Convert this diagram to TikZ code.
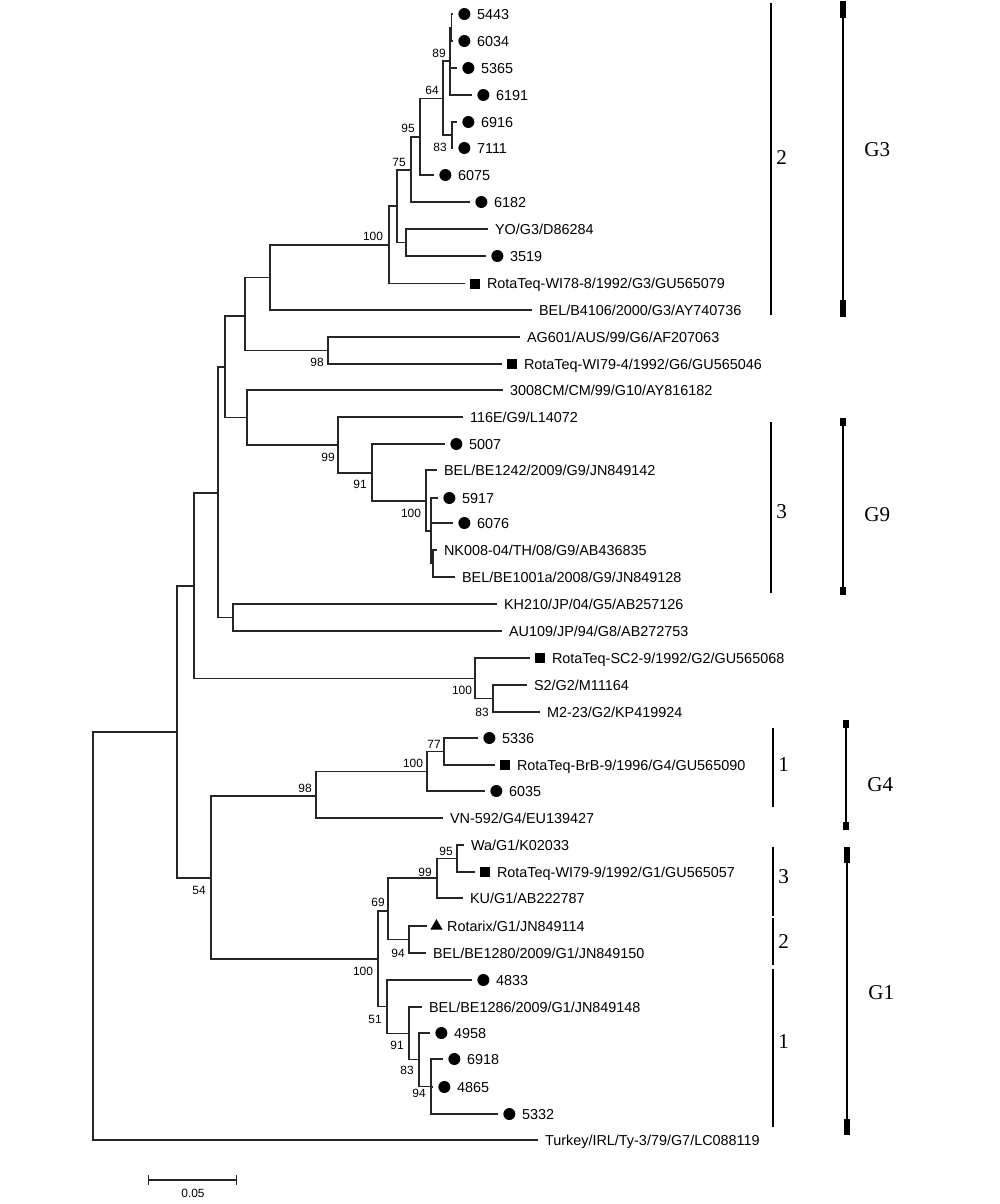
\documentclass[tikz,border=0pt]{standalone}
\usepackage{fontspec}
\setmainfont{Liberation Serif}
\setsansfont{Liberation Sans}
\usepackage{tikz}
\usetikzlibrary{positioning}
\usetikzlibrary{shapes.geometric}
\usetikzlibrary{arrows.meta}

\begin{document}
\begin{tikzpicture}[x=0.02cm, y=-0.02cm, node distance=0.1cm,
br/.style={draw=black!85, line width=0.6pt},
mdot/.style={circle, fill=black, minimum size=0.24cm, inner sep=0pt},
msq/.style={rectangle, fill=black, minimum size=0.2cm, inner sep=0pt},
mtri/.style={regular polygon, regular polygon sides=3, fill=black, minimum size=0.28cm, inner sep=0pt},
mnone/.style={inner sep=0pt, minimum size=0pt, xshift=-0.1cm},
taxon/.style={font=\fontsize{8.2}{9}\selectfont\sffamily, inner sep=0pt, text height=6pt, text depth=0pt},
boot/.style={font=\fontsize{6.8}{8}\selectfont\sffamily, inner sep=0pt},
grp/.style={font=\fontsize{12}{14}\selectfont\rmfamily, inner sep=0pt},
subbar/.style={line width=1pt},
gbar/.style={line width=1.3pt},
gcap/.style={line width=3.4pt}]
\useasboundingbox (0,0) rectangle (1000,1204);

% inner nodes of the tree
\coordinate (rt) at (93,936);
\coordinate (nA) at (177,732);
\coordinate (nB) at (194,586);
\coordinate (nC) at (218,493);
\coordinate (nD) at (225,367);
\coordinate (nE) at (245,316);
\coordinate (nGiii) at (270,277.5);
\coordinate (nGiiiC) at (389,245);
\coordinate (nU) at (397,206);
\coordinate (n75) at (411,170);
\coordinate (n95) at (420,137);
\coordinate (n64) at (443,98.5);
\coordinate (n89) at (450,61);
\coordinate (nP) at (451.5,27.5);
\coordinate (n83) at (452,135);
\coordinate (nYO) at (406,242.5);
\coordinate (n98a) at (328,350.5);
\coordinate (nF) at (247,417.5);
\coordinate (n99a) at (338,445);
\coordinate (n91a) at (372,473);
\coordinate (n100b) at (426,501);
\coordinate (nX) at (431,531);
\coordinate (nNK) at (433,563.5);
\coordinate (nKA) at (233,617.5);
\coordinate (n100c) at (475,678.5);
\coordinate (n83b) at (493,698.5);
\coordinate (n54) at (211,878);
\coordinate (n98b) at (316,796);
\coordinate (n100e) at (427,771.5);
\coordinate (n77) at (444,751.5);
\coordinate (n100d) at (378,959);
\coordinate (n69) at (388,911);
\coordinate (n99c) at (437,878);
\coordinate (n95b) at (457,858.5);
\coordinate (n94a) at (409,939.5);
\coordinate (n51) at (387,1006.5);
\coordinate (n91b) at (409,1033.5);
\coordinate (n83c) at (419,1059.5);
\coordinate (n94b) at (431,1086.5);

\foreach \a/\b in {rt/nA, nA/nB, nA/n54, nB/nC, nB/n100c, nC/nD, nC/nKA,
  nD/nE, nD/nF, nE/nGiii, nE/n98a, nGiii/nGiiiC, nGiiiC/nU, nU/n75, nU/nYO,
  n75/n95, n95/n64, n64/n89, n64/n83, n89/nP, nF/n99a, n99a/n91a,
  n91a/n100b, n100b/nX, nX/nNK, n100c/n83b, n54/n98b, n54/n100d,
  n98b/n100e, n100e/n77, n100d/n69, n100d/n51, n69/n99c, n69/n94a,
  n99c/n95b, n51/n91b, n91b/n83c, n83c/n94b}
  \draw[br] (\a) |- (\b);

% leaves: name/parent/x/y/marker/label
\foreach \id/\pa/\x/\y/\m/\t in {
  5443/nP/453/14/mdot/5443,
  6034/nP/453/41/mdot/6034,
  5365/n89/457/68/mdot/5365,
  6191/n89/472/95/mdot/6191,
  6916/n83/457/122/mdot/6916,
  7111/n83/453/148/mdot/7111,
  6075/n95/434/175/mdot/6075,
  6182/n75/470/202/mdot/6182,
  YO/nYO/488/229/mnone/{YO/G3/D86284},
  3519/nYO/486/256/mdot/3519,
  WIa/nGiiiC/465/283.5/msq/{RotaTeq-WI78-8/1992/G3/GU565079},
  B4106/nGiii/532/310/mnone/{BEL/B4106/2000/G3/AY740736},
  AG/n98a/520/337/mnone/{AG601/AUS/99/G6/AF207063},
  WIb/n98a/502/364/msq/{RotaTeq-WI79-4/1992/G6/GU565046},
  CM/nF/503/390/mnone/{3008CM/CM/99/G10/AY816182},
  E116/n99a/463/417/mnone/{116E/G9/L14072},
  5007/n91a/445/444/mdot/5007,
  BE1242/n100b/437/470/mnone/{BEL/BE1242/2009/G9/JN849142},
  5917/nX/438/498/mdot/5917,
  6076/nX/453/523/mdot/6076,
  NK/nNK/437/550/mnone/{NK008-04/TH/08/G9/AB436835},
  BE1001/nNK/455/577/mnone/{BEL/BE1001a/2008/G9/JN849128},
  KH/nKA/497/604/mnone/{KH210/JP/04/G5/AB257126},
  AU/nKA/502/631/mnone/{AU109/JP/94/G8/AB272753},
  SC/n100c/530/658/msq/{RotaTeq-SC2-9/1992/G2/GU565068},
  S2/n83b/527/685/mnone/{S2/G2/M11164},
  M2/n83b/540/712/mnone/{M2-23/G2/KP419924},
  5336/n77/478/738/mdot/5336,
  BrB/n77/495/765/msq/{RotaTeq-BrB-9/1996/G4/GU565090},
  6035/n100e/485/791/mdot/6035,
  VN/n98b/443/818/mnone/{VN-592/G4/EU139427},
  Wa/n95b/464/845/mnone/{Wa/G1/K02033},
  WIc/n95b/475/872/msq/{RotaTeq-WI79-9/1992/G1/GU565057},
  KU/n99c/463/898/mnone/{KU/G1/AB222787},
  Rx/n94a/427/926/mtri/{Rotarix/G1/JN849114},
  BE1280/n94a/426/953/mnone/{BEL/BE1280/2009/G1/JN849150},
  4833/n51/472/980/mdot/4833,
  BE1286/n91b/422/1007/mnone/{BEL/BE1286/2009/G1/JN849148},
  4958/n83c/430/1033/mdot/4958,
  6918/n94b/443/1059/mdot/6918,
  4865/n94b/433/1087/mdot/4865,
  5332/n94b/498/1114/mdot/5332,
  Ty/rt/538/1140/mnone/{Turkey/IRL/Ty-3/79/G7/LC088119}}{
  \coordinate (l\id) at (\x,\y);
  \draw[br] (\pa) |- (l\id);
  \node[\m] (m\id) [right=of l\id] {};
  \node[taxon] (t\id) [right=0.12cm of m\id] {\t};
}

% bootstrap values
\foreach \n/\x/\y/\v in {n89/439/53/89, n64/432/90/64, n95/408/128/95,
  n83/440/147/83, n75/399/162/75, nGiiiC/373/236/100, n98a/317/362/98,
  n99a/328/457/99, n91a/360/484/91, n100b/411/513/100, n100c/462/690/100,
  n83b/482/712/83, n77/434/744/77, n100e/413/763/100, n98b/305/788/98,
  n54/199/890/54, n95b/446/851/95, n99c/425/872/99, n69/378/902/69,
  n94a/398/953/94, n100d/363/971/100, n51/375/1019/51, n91b/397/1045/91,
  n83c/407/1070/83, n94b/419/1093/94}
  \node[boot] (b\n) at (\x,\y) {\v};

% lineages
\foreach \i/\x/\ya/\yb/\ly/\t in {sa/771/3/315/158/2, sb/771/422/593/512/3,
  sc/773/728/807/765/1, sd/773/847/916/877/3, se/773/918/965/942/2,
  sf/773/969/1127/1042/1}{
  \coordinate (\i-a) at (\x,\ya);
  \coordinate (\i-z) at (\x,\yb);
  \draw[subbar] (\i-a) -- (\i-z);
  \node[grp, anchor=west] (\i-l) at (\x+5,\ly) {\t};
}

% genotypes
\foreach \i/\x/\ya/\yb/\c/\ly/\t in {g3/843/1/317/17/150/G3, g9/843/418/595/8/515/G9,
  g4/846/720/830/8/785/G4, g1/847/847/1135/16/993/G1}{
  \coordinate (\i-a) at (\x,\ya);
  \coordinate (\i-z) at (\x,\yb);
  \draw[gbar] (\i-a) -- (\i-z);
  \draw[gcap] (\i-a) -- ++(0,\c);
  \draw[gcap] (\i-z) -- ++(0,-\c);
  \node[grp, anchor=west] (\i-l) at (\x+21,\ly) {\t};
}

% scale
\coordinate (sb-a) at (148,1180);
\coordinate (sb-z) at (237,1180);
\draw[br, {Bar[width=0.2cm]}-{Bar[width=0.2cm]}] (sb-a) -- (sb-z);
\node[boot] (sbl) at (193,1193) {0.05};
\end{tikzpicture}
\end{document}
